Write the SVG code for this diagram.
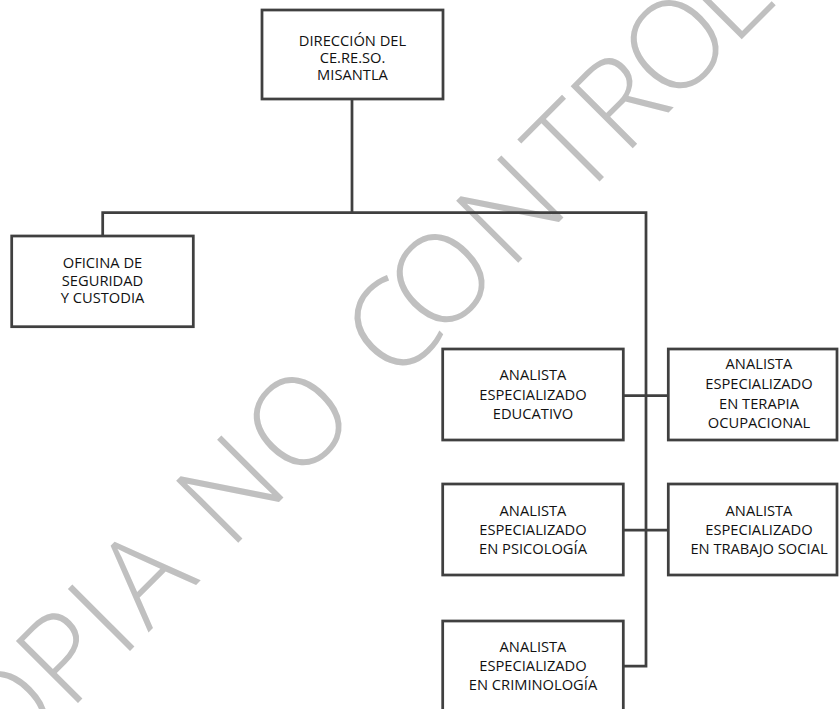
<svg xmlns="http://www.w3.org/2000/svg" width="840" height="709" viewBox="0 0 840 709">
<style>
.box{fill:#fff;stroke:#404040;stroke-width:2.75}
.con{fill:none;stroke:#404040;stroke-width:2.75;stroke-linejoin:miter}
.t{font-family:"Open Sans","Noto Sans","DejaVu Sans",sans-serif;font-size:14.7px;fill:#111;text-anchor:middle}
.wm{font-family:"Open Sans","Noto Sans","DejaVu Sans",sans-serif;font-size:123px;font-weight:360;fill:#c0c0c0;text-anchor:middle}
</style>
<rect width="840" height="709" fill="#fff"/>
<g id="watermark" transform="translate(0,781) rotate(-45)">
<text class="wm" x="-38 49 134 187 247 308 369 465 531 597 667 765 851 919 998 1068 1142 1229 1316" y="0">COPIA NO CONTROLADA</text>
</g>
<g id="connectors">
<polyline class="con" points="352,99 352,212.7"/>
<polyline class="con" points="102.7,236 102.7,212.7 646,212.7 646,666 623.3,666"/>
<line class="con" x1="623.3" y1="395.5" x2="668.3" y2="395.5"/>
<line class="con" x1="623.3" y1="530" x2="668.3" y2="530"/>
</g>
<g id="direccion">
<rect class="box" x="262" y="10" width="181" height="89"/>
<text class="t" x="352.5" y="46">DIRECCIÓN DEL</text>
<text class="t" x="352.5" y="63">CE.RE.SO.</text>
<text class="t" x="352.5" y="80">MISANTLA</text>
</g>
<g id="seguridad">
<rect class="box" x="11.7" y="236" width="181.6" height="90.7"/>
<text class="t" x="102.5" y="268.3">OFICINA DE</text>
<text class="t" x="102.5" y="285.5">SEGURIDAD</text>
<text class="t" x="102.5" y="303.3">Y CUSTODIA</text>
</g>
<g id="educativo">
<rect class="box" x="442.7" y="349" width="180.6" height="91"/>
<text class="t" x="533" y="380">ANALISTA</text>
<text class="t" x="533" y="399.5">ESPECIALIZADO</text>
<text class="t" x="533" y="419">EDUCATIVO</text>
</g>
<g id="terapia">
<rect class="box" x="668.3" y="349" width="168.7" height="91"/>
<text class="t" x="759" y="369.3">ANALISTA</text>
<text class="t" x="759" y="389">ESPECIALIZADO</text>
<text class="t" x="759" y="408.7">EN TERAPIA</text>
<text class="t" x="759" y="428.3">OCUPACIONAL</text>
</g>
<g id="psicologia">
<rect class="box" x="442.7" y="484" width="180.6" height="91"/>
<text class="t" x="533" y="515.7">ANALISTA</text>
<text class="t" x="533" y="535">ESPECIALIZADO</text>
<text class="t" x="533" y="554.3">EN PSICOLOGÍA</text>
</g>
<g id="trabajo">
<rect class="box" x="668.3" y="484" width="168.7" height="91"/>
<text class="t" x="759" y="515.7">ANALISTA</text>
<text class="t" x="759" y="535">ESPECIALIZADO</text>
<text class="t" x="759" y="554.3">EN TRABAJO SOCIAL</text>
</g>
<g id="criminologia">
<rect class="box" x="442.7" y="621" width="180.6" height="91"/>
<text class="t" x="533" y="651.7">ANALISTA</text>
<text class="t" x="533" y="671">ESPECIALIZADO</text>
<text class="t" x="533" y="690.3">EN CRIMINOLOGÍA</text>
</g>
</svg>
